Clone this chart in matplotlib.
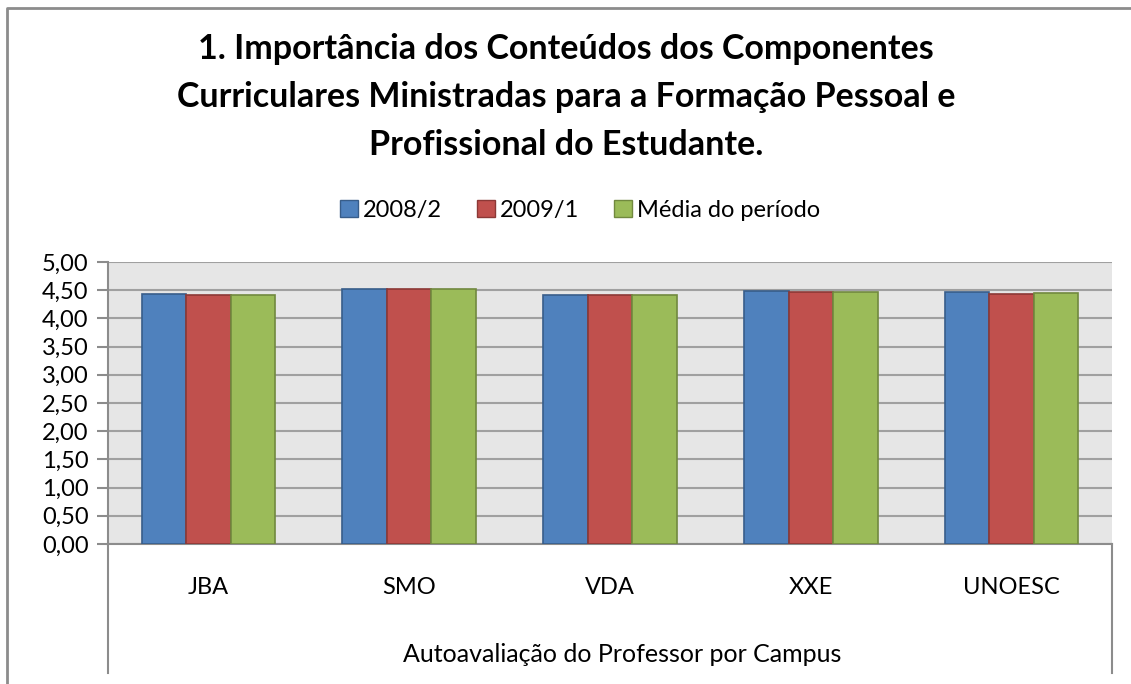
import numpy as np
import matplotlib
matplotlib.use("Agg")
import matplotlib.pyplot as plt
from matplotlib.lines import Line2D
from matplotlib.patches import Patch

# data
campus = ["JBA", "SMO", "VDA", "XXE", "UNOESC"]
s2008_2 = [4.43, 4.53, 4.41, 4.48, 4.47]
s2009_1 = [4.41, 4.52, 4.42, 4.47, 4.44]
media = [4.42, 4.52, 4.41, 4.47, 4.45]
series_names = ["2008/2", "2009/1", "Média do período"]
yticks = np.arange(0, 5.01, 0.5)

title = ("1. Importância dos Conteúdos dos Componentes\n"
         "Curriculares Ministradas para a Formação Pessoal e\n"
         "Profissional do Estudante.")
xlabel = "Autoavaliação do Professor por Campus"

fills = ["#4F81BD", "#C0504D", "#9BBB59"]
edges = ["#385D8A", "#8C3836", "#71893F"]

plt.rcParams['font.family'] = ['Lato', 'DejaVu Sans']

W, H = 1131, 684
fig = plt.figure(figsize=(W / 100, H / 100), dpi=100)
ax = fig.add_axes([108 / W, 1 - 544 / H, (1112 - 108) / W, (544 - 262) / H])
ax.set_facecolor("#E6E6E6")

x = np.arange(len(campus))
bw = 0.222
for i, vals in enumerate([s2008_2, s2009_1, media]):
    ax.bar(x + (i - 1) * bw, vals, width=bw, color=fills[i], edgecolor=edges[i],
           linewidth=1.2, zorder=3, label=series_names[i])

ax.set_xlim(-0.5, len(campus) - 0.5)
ax.set_ylim(0, 5)
ax.set_yticks(yticks)
ax.set_yticklabels([f"{v:.2f}".replace(".", ",") for v in yticks])
ax.yaxis.grid(True, color="#A0A0A0", linewidth=1.5, zorder=1)
ax.set_axisbelow(True)
ax.set_xticks([])
for s in ["top", "right"]:
    ax.spines[s].set_visible(False)
for s in ["left", "bottom"]:
    ax.spines[s].set_color("#8C8C8C")
    ax.spines[s].set_linewidth(1.5)
ax.tick_params(axis="y", length=8, width=1.5, color="#8C8C8C", labelsize=17, pad=6)

# category labels and axis title below the plot
label_y = -(587 - 544) / (544 - 262)
for xi, name in zip(x, campus):
    ax.text(xi, label_y, name, transform=ax.get_xaxis_transform(), fontsize=17,
            ha="center", va="center")
fig.text(622 / W, 1 - 655 / H, xlabel, fontsize=18, ha="center", va="center")

# vertical boundary lines of the category axis
for xp in [108, 1112]:
    fig.add_artist(Line2D([xp / W, xp / W], [1 - 544 / H, 1 - 673 / H],
                          color="#8C8C8C", linewidth=1.5))

# outer chart frame (only left and top edges are visible)
fig.add_artist(Line2D([7 / W, 7 / W, 1], [0, 1 - 8 / H, 1 - 8 / H],
                      color="#8C8C8C", linewidth=2))

fig.text(566 / W, 1 - 97 / H, title, fontsize=24.5, fontweight="bold",
         ha="center", va="center", linespacing=1.6)

handles = [Patch(facecolor=fills[i], edgecolor=edges[i], label=series_names[i])
           for i in range(3)]
fig.legend(handles=handles, loc="center", bbox_to_anchor=(580 / W, 1 - 210 / H),
           ncol=3, frameon=False, fontsize=17, handlelength=0.75, handleheight=0.75,
           handletextpad=0.2, columnspacing=1.5)

fig.savefig("out.png", dpi=100)
